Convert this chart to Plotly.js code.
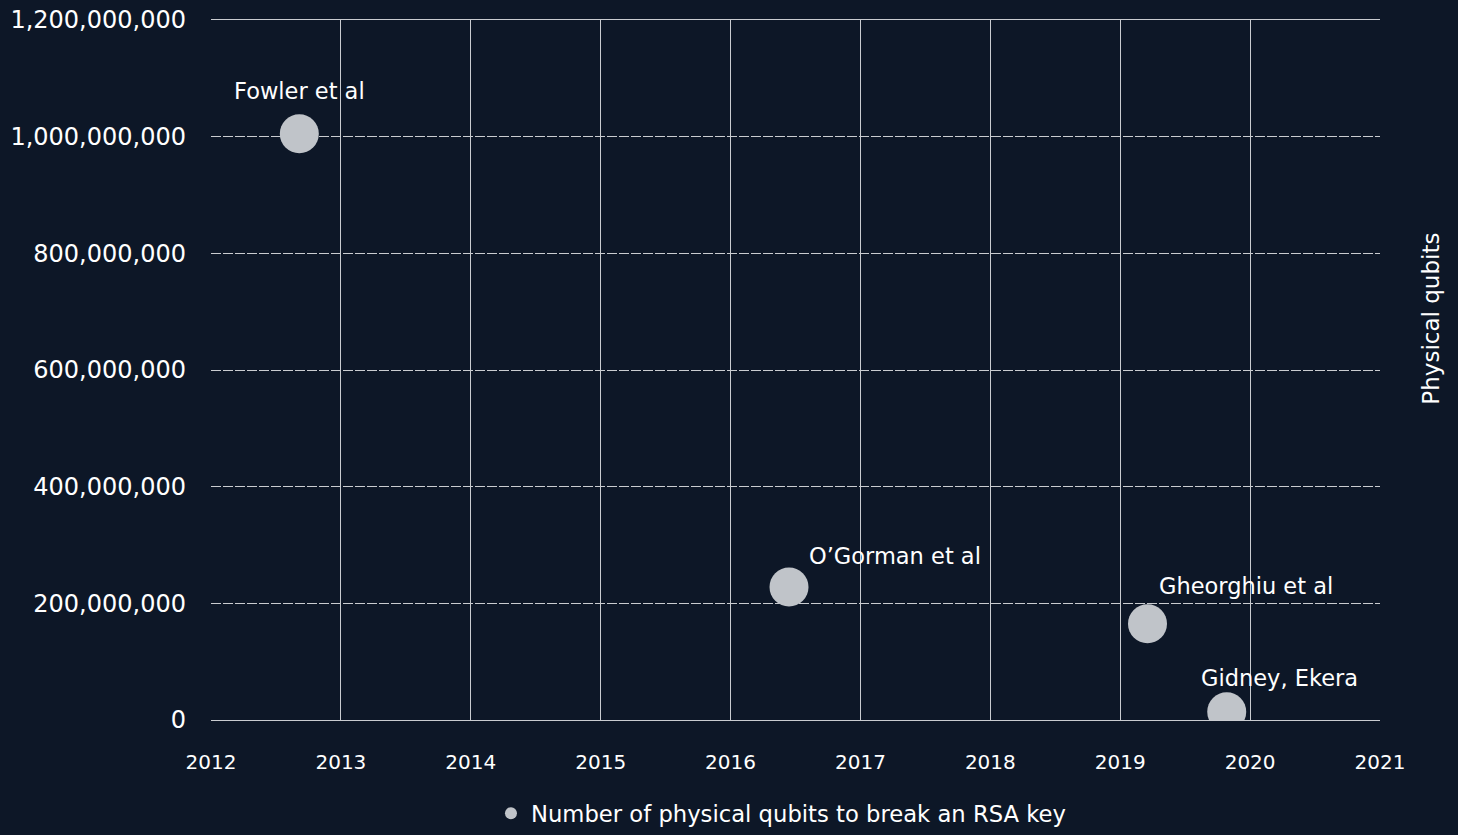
<!DOCTYPE html>
<html><head><meta charset="utf-8">
<script src="https://cdn.plot.ly/plotly-3.0.1.min.js"></script>
<style>html,body{margin:0;padding:0;background:#0d1727;}</style>
</head><body><div id="chart" style="width:1458px;height:835px;"></div>
<script>
const studies = ["Fowler et al", "O\u2019Gorman et al", "Gheorghiu et al", "Gidney, Ekera"];
const years = [2012.68, 2016.45, 2019.21, 2019.82];
const qubits = [1005000000, 228000000, 165000000, 14000000];
const seriesName = "Number of physical qubits to break an RSA key";
const xTicks = [2012, 2013, 2014, 2015, 2016, 2017, 2018, 2019, 2020, 2021];
const yTicks = [0, 200000000, 400000000, 600000000, 800000000, 1000000000, 1200000000];
const yTickText = ["0", "200,000,000", "400,000,000", "600,000,000", "800,000,000", "1,000,000,000", "1,200,000,000"];

const labelShiftX = [0, 106, 98, 53];
const labelShiftY = [43, 31, 38, 34];

const font = "'DejaVu Sans', sans-serif";
const gridColor = "#c9ccd0";

const annotations = studies.map((s, i) => ({
  x: years[i], y: qubits[i], xref: "x", yref: "y", text: s, showarrow: false,
  xshift: labelShiftX[i], yshift: labelShiftY[i],
  font: {family: font, size: 22.5, color: "#ffffff"}
}));
annotations.push({
  xref: "paper", yref: "paper", x: 1.044, xanchor: "center", y: 0.574, yanchor: "middle", text: "Physical qubits",
  textangle: -90, showarrow: false, font: {family: font, size: 23, color: "#ffffff"}
});

Plotly.newPlot("chart", [{
  type: "scatter", mode: "markers", x: years, y: qubits, name: seriesName,
  marker: {size: 39, color: "#c0c4c9"}, hoverinfo: "skip"
}], {
  width: 1458, height: 835,
  paper_bgcolor: "#0d1727", plot_bgcolor: "#0d1727",
  margin: {l: 211, r: 78, t: 20, b: 115},
  showlegend: true,
  legend: {orientation: "h", x: 0.488, xanchor: "center", xref: "paper", y: 0.0, yanchor: "bottom", yref: "container",
    font: {family: font, size: 22.7, color: "#ffffff"}, itemsizing: "constant", itemwidth: 30, bgcolor: "rgba(0,0,0,0)"},
  xaxis: {range: [2012, 2021], tickvals: xTicks, showgrid: true, gridcolor: gridColor, gridwidth: 1,
    zeroline: false, showline: true, linecolor: gridColor, mirror: true, ticks: "",
    tickfont: {family: font, size: 20, color: "#ffffff"}, ticklabelstandoff: 24, automargin: false},
  yaxis: {range: [0, 1200000000], tickvals: yTicks, ticktext: yTickText, showgrid: true,
    gridcolor: gridColor, gridwidth: 1, griddash: "10px,2px", zeroline: false, showline: false, ticks: "",
    tickfont: {family: font, size: 24, color: "#ffffff"}, ticklabelstandoff: 24, automargin: false},
  annotations: annotations
}, {staticPlot: true});
</script></body></html>
